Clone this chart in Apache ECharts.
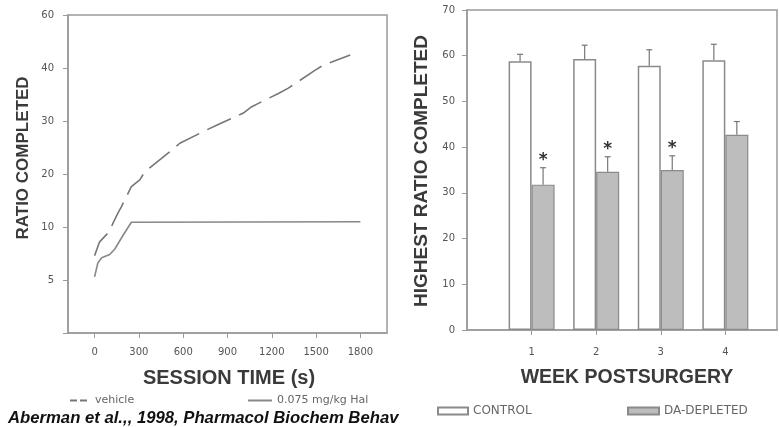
<!DOCTYPE html>
<html>
<head>
<meta charset="utf-8">
<script src="https://cdn.jsdelivr.net/npm/echarts@6/dist/echarts.min.js"></script>
<style>
html,body{margin:0;padding:0;background:#fff;}
#c{width:779px;height:427px;}
</style>
</head>
<body>
<div id="c"></div>
<script>
// ---- Left panel: ratio completed vs session time ----
const yTickRatios = [0, 5, 10, 20, 30, 40, 60];          // ratio at each equally spaced y step
const yTickLabels = ['', '5', '10', '20', '30', '40', '60'];
const timeTicks = [0, 300, 600, 900, 1200, 1500, 1800];

const vehicleTime  = [0, 34, 102, 124, 158, 181, 215, 249, 306, 340, 509, 577, 758, 826, 1007, 1064, 1245, 1312, 1494, 1550, 1731];
const vehicleRatio = [7.3, 8.6, 9.6, 10.7, 12.6, 13.8, 15.7, 17.6, 18.9, 20.4, 24.2, 25.8, 28.3, 29.2, 31.5, 32.7, 35.2, 36.2, 39.6, 41.1, 44.9];

const halTime  = [0, 22, 48, 102, 136, 192, 249, 1800];
const halRatio = [5.3, 6.6, 7.1, 7.4, 7.9, 9.2, 10.9, 11.0];

// ---- Right panel: highest ratio completed per week ----
const weeks = [1, 2, 3, 4];
const weekTicks = [1, 2, 3, 4];
const controlMean = [58.8, 59.3, 57.8, 59.0];
const controlErr  = [1.5, 3.0, 3.5, 3.5];
const daMean = [31.8, 34.6, 35.0, 42.7];
const daErr  = [3.7, 3.3, 3.1, 2.9];
const daSignificant = [true, true, true, false];

// map a ratio onto the equally spaced step scale of the left y axis
function ratioToStep(v) {
  for (let i = 1; i < yTickRatios.length; i++) {
    if (v <= yTickRatios[i]) {
      const a = yTickRatios[i - 1], b = yTickRatios[i];
      return (i - 1) + (v - a) / (b - a);
    }
  }
  return yTickRatios.length - 1;
}

const vehicleData = vehicleTime.map((t, i) => [t, ratioToStep(vehicleRatio[i])]);
const halData = halTime.map((t, i) => [t, ratioToStep(halRatio[i])]);
const controlData = weeks.map((w, i) => [w, controlMean[i]]);
const daData = weeks.map((w, i) => [w, daMean[i]]);
const controlErrData = weeks.map((w, i) => [w, controlMean[i], controlErr[i], 0]);
const daErrData = weeks.map((w, i) => [w, daMean[i], daErr[i], daSignificant[i] ? 1 : 0]);

const axisCol = '#9a9a9a';
const txtCol = '#555';
const tickFont = {fontFamily: 'DejaVu Sans', fontSize: 10, color: txtCol};

function errRenderer(offset) {
  return function (params, api) {
    const x = api.value(0), y = api.value(1), e = api.value(2), sig = api.value(3);
    const top = api.coord([x, y + e]);
    const base = api.coord([x, y]);
    const cx = top[0] + offset;
    const children = [
      {type: 'line', shape: {x1: cx, y1: base[1], x2: cx, y2: top[1]}, style: {stroke: '#777', lineWidth: 1.2}},
      {type: 'line', shape: {x1: cx - 3, y1: top[1], x2: cx + 3, y2: top[1]}, style: {stroke: '#777', lineWidth: 1.2}}
    ];
    if (sig) {
      children.push({type: 'text', x: cx, y: top[1] - 16,
        style: {text: '*', fill: '#333', font: 'bold 17px DejaVu Sans', textAlign: 'center', textVerticalAlign: 'top'}});
    }
    return {type: 'group', children: children};
  };
}

const legendText = {fontFamily: 'DejaVu Sans', fontSize: 11, color: '#666'};
const legendText2 = {fontFamily: 'DejaVu Sans', fontSize: 12, color: '#666'};

const chart = echarts.init(document.getElementById('c'), null, {renderer: 'canvas'});
chart.setOption({
  backgroundColor: '#fff',
  animation: false,
  grid: [
    {left: 68, right: 392, top: 15, bottom: 94, show: true, borderColor: axisCol, borderWidth: 1.5, backgroundColor: 'transparent'},
    {left: 467, right: 2, top: 10, bottom: 97, show: true, borderColor: axisCol, borderWidth: 1.5, backgroundColor: 'transparent'}
  ],
  xAxis: [
    {type: 'value', gridIndex: 0, min: -180, max: 1980,
      axisLine: {show: true, onZero: false, lineStyle: {color: axisCol, width: 1.5}},
      axisTick: {show: true, length: 5, customValues: timeTicks, lineStyle: {color: axisCol}},
      axisLabel: Object.assign({margin: 14, customValues: timeTicks, formatter: v => String(v)}, tickFont),
      splitLine: {show: false}},
    {type: 'value', gridIndex: 1, min: 0, max: 4.8,
      axisLine: {show: true, onZero: false, lineStyle: {color: axisCol, width: 1.5}},
      axisTick: {show: true, length: 5, customValues: weekTicks, lineStyle: {color: axisCol}},
      axisLabel: Object.assign({margin: 17, customValues: weekTicks}, tickFont),
      splitLine: {show: false}}
  ],
  yAxis: [
    {type: 'value', gridIndex: 0, min: 0, max: 6, interval: 1,
      axisLine: {show: true, onZero: false, lineStyle: {color: axisCol, width: 1.5}},
      axisTick: {show: true, length: 5, lineStyle: {color: axisCol}},
      axisLabel: Object.assign({margin: 14, formatter: v => yTickLabels[Math.round(v)]}, tickFont),
      splitLine: {show: false}},
    {type: 'value', gridIndex: 1, min: 0, max: 70, interval: 10,
      axisLine: {show: true, onZero: false, lineStyle: {color: axisCol, width: 1.5}},
      axisTick: {show: true, length: 5, lineStyle: {color: axisCol}},
      axisLabel: Object.assign({margin: 12}, tickFont),
      splitLine: {show: false}}
  ],
  legend: [
    {data: ['vehicle'], left: 64, top: 390, itemWidth: 20, itemHeight: 10, itemGap: 4,
      itemStyle: {opacity: 0}, lineStyle: {type: [7, 3]}, textStyle: legendText},
    {data: ['0.075 mg/kg Hal'], left: 242, top: 390, itemWidth: 24, itemHeight: 10, itemGap: 4,
      itemStyle: {opacity: 0}, textStyle: legendText},
    {data: ['CONTROL'], left: 432, top: 400, icon: 'rect', itemWidth: 30, itemHeight: 7, textStyle: legendText2},
    {data: ['DA-DEPLETED'], left: 622, top: 400, icon: 'rect', itemWidth: 31, itemHeight: 7, textStyle: legendText2}
  ],
  series: [
    {name: 'vehicle', type: 'line', xAxisIndex: 0, yAxisIndex: 0, data: vehicleData,
      showSymbol: false, symbol: 'none', lineStyle: {color: '#777', width: 1.6, type: [26, 9]}, itemStyle: {color: '#777'}},
    {name: '0.075 mg/kg Hal', type: 'line', xAxisIndex: 0, yAxisIndex: 0, data: halData,
      showSymbol: false, symbol: 'none', lineStyle: {color: '#888', width: 1.6}, itemStyle: {color: '#888'}},
    {name: 'CONTROL', type: 'bar', xAxisIndex: 1, yAxisIndex: 1, data: controlData,
      barWidth: 23, barGap: '0%', itemStyle: {color: '#fff', borderColor: '#8a8a8a', borderWidth: 1.5}},
    {name: 'DA-DEPLETED', type: 'bar', xAxisIndex: 1, yAxisIndex: 1, data: daData,
      barWidth: 23, barGap: '0%', itemStyle: {color: '#bdbdbd', borderColor: '#8a8a8a', borderWidth: 1.2}},
    {type: 'custom', xAxisIndex: 1, yAxisIndex: 1, data: controlErrData, renderItem: errRenderer(-11.5), z: 5, silent: true},
    {type: 'custom', xAxisIndex: 1, yAxisIndex: 1, data: daErrData, renderItem: errRenderer(11.5), z: 5, silent: true}
  ],
  graphic: [
    {type: 'text', x: 23, y: 158, rotation: Math.PI / 2,
      style: {text: 'RATIO COMPLETED', font: 'bold 17px Liberation Sans', fill: '#3a3a3a', textAlign: 'center', textVerticalAlign: 'middle'}},
    {type: 'text', x: 229, y: 378,
      style: {text: 'SESSION TIME (s)', font: 'bold 20px Liberation Sans', fill: '#3a3a3a', textAlign: 'center', textVerticalAlign: 'middle'}},
    {type: 'text', x: 422, y: 171, rotation: Math.PI / 2,
      style: {text: 'HIGHEST RATIO COMPLETED', font: 'bold 19px Liberation Sans', fill: '#3a3a3a', textAlign: 'center', textVerticalAlign: 'middle'}},
    {type: 'text', x: 627, y: 378,
      style: {text: 'WEEK POSTSURGERY', font: 'bold 19.5px Liberation Sans', fill: '#3a3a3a', textAlign: 'center', textVerticalAlign: 'middle'}},
    {type: 'text', x: 8, y: 418,
      style: {text: 'Aberman et al.,, 1998, Pharmacol Biochem Behav', font: 'italic bold 16.7px Liberation Sans', fill: '#111', textAlign: 'left', textVerticalAlign: 'middle'}}
  ]
});
</script>
</body>
</html>
